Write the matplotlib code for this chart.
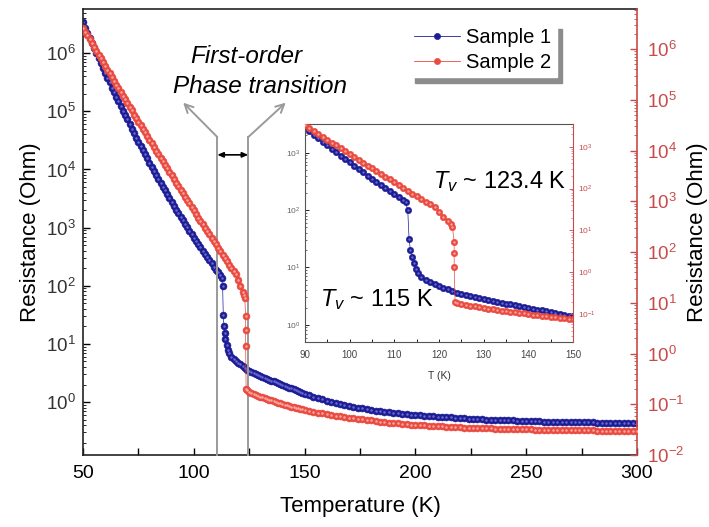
import numpy as np
import matplotlib
matplotlib.use('Agg')
import matplotlib.pyplot as plt
import matplotlib.transforms as mtransforms
from matplotlib.ticker import LogLocator, MultipleLocator, NullFormatter

plt.rcParams['font.family'] = ['Liberation Sans', 'DejaVu Sans']
plt.rcParams['mathtext.fontset'] = 'custom'
plt.rcParams['mathtext.rm'] = 'Liberation Sans'
plt.rcParams['mathtext.it'] = 'Liberation Sans:italic'
plt.rcParams['mathtext.bf'] = 'Liberation Sans:bold'
plt.rcParams['axes.unicode_minus'] = False

#_____________________________________________
# Sample 1 (left axis), log10 of resistance
t1_cold = list(range(50, 113))
r1_cold = [6.53, 6.44, 6.35, 6.26, 6.18, 6.09, 6.00, 5.92, 5.83, 5.75,
           5.66, 5.58, 5.50, 5.41, 5.33, 5.25, 5.17, 5.09, 5.01, 4.94,
           4.86, 4.78, 4.70, 4.63, 4.55, 4.48, 4.41, 4.33, 4.26, 4.19,
           4.12, 4.05, 3.98, 3.91, 3.84, 3.77, 3.70, 3.64, 3.57, 3.51,
           3.44, 3.38, 3.31, 3.25, 3.19, 3.13, 3.07, 3.01, 2.95, 2.89,
           2.83, 2.77, 2.72, 2.66, 2.60, 2.55, 2.49, 2.44, 2.39, 2.33,
           2.28, 2.23, 2.18]
t1_jump = [112.5, 113.0, 113.3, 113.6, 113.9, 114.3, 114.8, 115.3, 116.0]
r1_jump = [2.14, 2.00, 1.50, 1.30, 1.18, 1.08, 0.98, 0.90, 0.84]
t1_mid = list(range(117, 151))
r1_mid = [0.78, 0.74, 0.71, 0.68, 0.65, 0.62, 0.59, 0.56, 0.54, 0.52,
          0.50, 0.485, 0.47, 0.45, 0.43, 0.415, 0.40, 0.385, 0.37, 0.355,
          0.34, 0.325, 0.31, 0.295, 0.28, 0.265, 0.25, 0.235, 0.22, 0.205,
          0.19, 0.175, 0.16, 0.145]
t1_warm = list(range(152, 301, 2))
r1_warm = [0.12, 0.095, 0.07, 0.045, 0.02, 0.0, -0.02, -0.035, -0.055, -0.07,
           -0.085, -0.10, -0.11, -0.125, -0.135, -0.145, -0.155, -0.165, -0.175, -0.185,
           -0.19, -0.20, -0.21, -0.215, -0.225,
           -0.23, -0.235, -0.24, -0.245, -0.25, -0.255, -0.26, -0.265, -0.27, -0.275,
           -0.28, -0.285, -0.29, -0.29, -0.295, -0.30, -0.30, -0.305, -0.31, -0.31,
           -0.315, -0.315, -0.32, -0.32, -0.325,
           -0.325, -0.33, -0.33, -0.335, -0.335, -0.34, -0.34, -0.34, -0.345, -0.345,
           -0.345, -0.35, -0.35, -0.35, -0.35, -0.355, -0.355, -0.355, -0.355, -0.36,
           -0.36, -0.36, -0.36, -0.36, -0.36]

# Sample 2 (right axis)
t2_cold = list(range(50, 120))
r2_cold = [6.42, 6.34, 6.27, 6.19, 6.12, 6.04, 5.97, 5.89, 5.82, 5.74,
           5.67, 5.59, 5.52, 5.45, 5.37, 5.30, 5.23, 5.15, 5.08, 5.01,
           4.93, 4.86, 4.79, 4.71, 4.64, 4.57, 4.50, 4.43, 4.36, 4.28,
           4.21, 4.14, 4.07, 4.00, 3.93, 3.86, 3.79, 3.72, 3.65, 3.58,
           3.51, 3.44, 3.37, 3.30, 3.23, 3.16, 3.09, 3.03, 2.96, 2.89,
           2.82, 2.75, 2.68, 2.62, 2.55, 2.48, 2.42, 2.35, 2.28, 2.22,
           2.15, 2.08, 2.02, 1.95, 1.88, 1.82, 1.75, 1.69, 1.62, 1.56]
t2_jump = [120, 121, 122, 122.6, 123.0, 123.4, 123.4, 123.4, 123.6]
r2_jump = [1.45, 1.33, 1.22, 1.15, 1.09, 0.73, 0.47, 0.14, -0.70]
t2_mid = list(range(124, 151))
r2_mid = [-0.72, -0.75, -0.77, -0.79, -0.81, -0.83, -0.85, -0.865, -0.88, -0.895,
          -0.91, -0.925, -0.94, -0.955, -0.97, -0.98, -0.995, -1.005, -1.02, -1.03,
          -1.045, -1.055, -1.07, -1.08, -1.09, -1.10, -1.115]
t2_warm = list(range(152, 301, 2))
r2_warm = [-1.13, -1.15, -1.165, -1.18, -1.195, -1.21, -1.225, -1.24, -1.25, -1.265,
           -1.275, -1.29, -1.30, -1.31, -1.32, -1.33, -1.34, -1.35, -1.36, -1.37,
           -1.375, -1.385, -1.39, -1.40, -1.405,
           -1.41, -1.415, -1.42, -1.425, -1.43, -1.435, -1.44, -1.445, -1.45, -1.455,
           -1.46, -1.46, -1.465, -1.47, -1.47, -1.475, -1.475, -1.48, -1.48, -1.485,
           -1.485, -1.49, -1.49, -1.49, -1.495,
           -1.495, -1.50, -1.50, -1.50, -1.505, -1.505, -1.505, -1.51, -1.51, -1.51,
           -1.51, -1.515, -1.515, -1.515, -1.515, -1.52, -1.52, -1.52, -1.52, -1.52,
           -1.525, -1.525, -1.525, -1.525, -1.525]

T1 = np.array(t1_cold + t1_jump + t1_mid + t1_warm, dtype=float)
R1 = 10 ** np.array(r1_cold + r1_jump + r1_mid + r1_warm)
T2 = np.array(t2_cold + t2_jump + t2_mid + t2_warm, dtype=float)
R2 = 10 ** np.array(r2_cold + r2_jump + r2_mid + r2_warm)

#_____________________________________________
blue = '#1c1c95'
blue_hi = '#6a6ad2'
red = '#ea4a40'
red_hi = '#f7aaa2'
axred = '#c84a4a'

fig = plt.figure(figsize=(7.09, 5.27), dpi=100)
ax = fig.add_axes([83 / 709, 1 - 455 / 527, 554 / 709, 446 / 527])
ax2 = ax.twinx()

l1, = ax.plot(T1, R1, '-', color=blue, lw=0.5, marker='o', ms=5.0,
              mfc=blue, mec=blue, mew=0.4, label='Sample 1')
ax.plot(T1, R1, ls='none', marker='o', ms=1.8, mfc=blue_hi, mec='none')
l2, = ax2.plot(T2, R2, '-', color=red, lw=0.5, marker='o', ms=5.0,
               mfc=red, mec=red, mew=0.4, label='Sample 2', zorder=3)
ax2.plot(T2, R2, ls='none', marker='o', ms=1.8, mfc=red_hi, mec='none', zorder=3)

ax.set_xlim(50, 300)
ax.set_yscale('log')
ax.set_ylim(10 ** -0.91, 10 ** 6.76)
ax2.set_yscale('log')
ax2.set_ylim(1e-2, 10 ** 6.79)

ax.xaxis.set_major_locator(MultipleLocator(50))
ax.xaxis.set_minor_locator(MultipleLocator(25))
for a in (ax, ax2):
    a.yaxis.set_major_locator(LogLocator(base=10, numticks=20))
    a.yaxis.set_minor_locator(LogLocator(base=10, subs=np.arange(2, 10), numticks=20))
    a.yaxis.set_minor_formatter(NullFormatter())
ax.tick_params(axis='x', which='major', direction='in', length=5, width=1, labelsize=14, pad=7, top=False)
ax.tick_params(axis='x', which='minor', direction='in', length=5, width=1, top=False)
ax.tick_params(axis='y', which='major', direction='in', length=5, width=1, labelsize=13.5,
               labelcolor='#333333', right=False, pad=5)
ax.tick_params(axis='y', which='minor', direction='in', length=2.5, width=0.6, right=False)
ax2.tick_params(axis='y', which='major', direction='in', length=5, width=1, labelsize=13.5,
                colors=axred, pad=7)
ax2.tick_params(axis='y', which='minor', direction='in', length=2.5, width=0.6, colors=axred)
for s in ('left', 'top', 'bottom'):
    ax.spines[s].set_linewidth(1.2)
    ax.spines[s].set_color('#222222')
ax.spines['right'].set_visible(False)
ax2.spines['right'].set_color(axred)
ax2.spines['right'].set_linewidth(1.2)
for s in ('left', 'top', 'bottom'):
    ax2.spines[s].set_visible(False)

ax.set_xlabel('Temperature (K)', fontsize=16, labelpad=10)
ax.set_ylabel('Resistance (Ohm)', fontsize=16, labelpad=4)
ax2.set_ylabel('Resistance (Ohm)', fontsize=16, labelpad=2)

# transition markers
tr = mtransforms.blended_transform_factory(ax2.transData, ax2.transAxes)
gray = '#9a9a9a'
for tx in (110.6, 124.6):
    ax2.plot([tx, tx], [0, 0.713], transform=tr, color=gray, lw=1.4, zorder=1, clip_on=False)
ax2.annotate('', xy=(95.2, 0.79), xytext=(110.6, 0.713), xycoords=tr, textcoords=tr,
             arrowprops=dict(arrowstyle='->,head_length=0.6,head_width=0.3', color=gray, lw=1.4,
                             shrinkA=0, shrinkB=0))
ax2.annotate('', xy=(141.5, 0.79), xytext=(124.6, 0.713), xycoords=tr, textcoords=tr,
             arrowprops=dict(arrowstyle='->,head_length=0.6,head_width=0.3', color=gray, lw=1.4,
                             shrinkA=0, shrinkB=0))
ax2.annotate('', xy=(110.6, 0.673), xytext=(124.6, 0.673), xycoords=tr, textcoords=tr,
             arrowprops=dict(arrowstyle='<|-|>,head_length=0.35,head_width=0.15', color='black', lw=1.2,
                             shrinkA=0, shrinkB=0))
fig.text(246 / 709, 1 - 63 / 527, 'First-order', ha='center', va='baseline',
         fontsize=17.5, style='italic')
fig.text(260 / 709, 1 - 93 / 527, 'Phase transition', ha='center', va='baseline',
         fontsize=17.5, style='italic')

leg = ax2.legend(handles=[l1, l2], loc='upper left', bbox_to_anchor=(409 / 709, 1 - 23 / 527),
                 bbox_transform=fig.transFigure, fontsize=14.5, frameon=True, fancybox=False,
                 edgecolor='white', facecolor='white', framealpha=1, handlelength=2.3,
                 handletextpad=0.3, borderpad=0.25, labelspacing=0.3, borderaxespad=0,
                 shadow={'ox': 4, 'oy': -4, 'facecolor': '0.55', 'edgecolor': '0.55', 'alpha': 1})
for h in leg.legend_handles:
    h.set_markersize(4.5)
    h.set_linewidth(0.6)

#_____________________________________________
# inset
axin = fig.add_axes([305 / 709, 1 - 342 / 527, 268 / 709, 218 / 527])
axin2 = axin.twinx()
axin.plot(T1, R1, '-', color=blue, lw=0.5, marker='o', ms=4.6, mfc=blue, mec=blue, mew=0.4)
axin.plot(T1, R1, ls='none', marker='o', ms=1.7, mfc=blue_hi, mec='none')
axin2.plot(T2, R2, '-', color=red, lw=0.5, marker='o', ms=4.6, mfc=red, mec=red, mew=0.4)
axin2.plot(T2, R2, ls='none', marker='o', ms=1.7, mfc=red_hi, mec='none')
axin.set_xlim(90, 150)
axin.set_yscale('log')
axin.set_ylim(10 ** -0.3, 10 ** 3.5)
axin2.set_yscale('log')
axin2.set_ylim(10 ** -1.66, 10 ** 3.54)
axin.xaxis.set_major_locator(MultipleLocator(10))
axin.xaxis.set_minor_locator(MultipleLocator(5))
for a in (axin, axin2):
    a.yaxis.set_major_locator(LogLocator(base=10, numticks=20))
    a.yaxis.set_minor_locator(LogLocator(base=10, subs=np.arange(2, 10), numticks=20))
    a.yaxis.set_minor_formatter(NullFormatter())
axin.tick_params(axis='x', which='both', direction='in', length=2.5, width=0.6, labelsize=7,
                 labelcolor='#444444', top=False, pad=6)
axin.tick_params(axis='y', which='major', direction='in', length=3, width=0.6, labelsize=6,
                 labelcolor='#666666', right=False)
axin.tick_params(axis='y', which='minor', direction='in', length=1.5, width=0.4, right=False)
axin2.tick_params(axis='y', which='major', direction='in', length=3, width=0.6, labelsize=6,
                  colors=axred)
axin2.tick_params(axis='y', which='minor', direction='in', length=1.5, width=0.4, colors=axred)
for s in ('left', 'top', 'bottom'):
    axin.spines[s].set_linewidth(0.8)
    axin.spines[s].set_color('#555555')
axin.spines['right'].set_visible(False)
axin2.spines['right'].set_color(axred)
axin2.spines['right'].set_linewidth(0.8)
for s in ('left', 'top', 'bottom'):
    axin2.spines[s].set_visible(False)
axin.set_xlabel('T (K)', fontsize=7.5, labelpad=8, color='#333333')

fig.text(433 / 709, 1 - 182 / 527, r'$T_v$ ~ 123.4 K', fontsize=17, ha='left', va='center')
fig.text(320 / 709, 1 - 300 / 527, r'$T_v$ ~ 115 K', fontsize=17, ha='left', va='center')

fig.savefig('out.png', dpi=100)
